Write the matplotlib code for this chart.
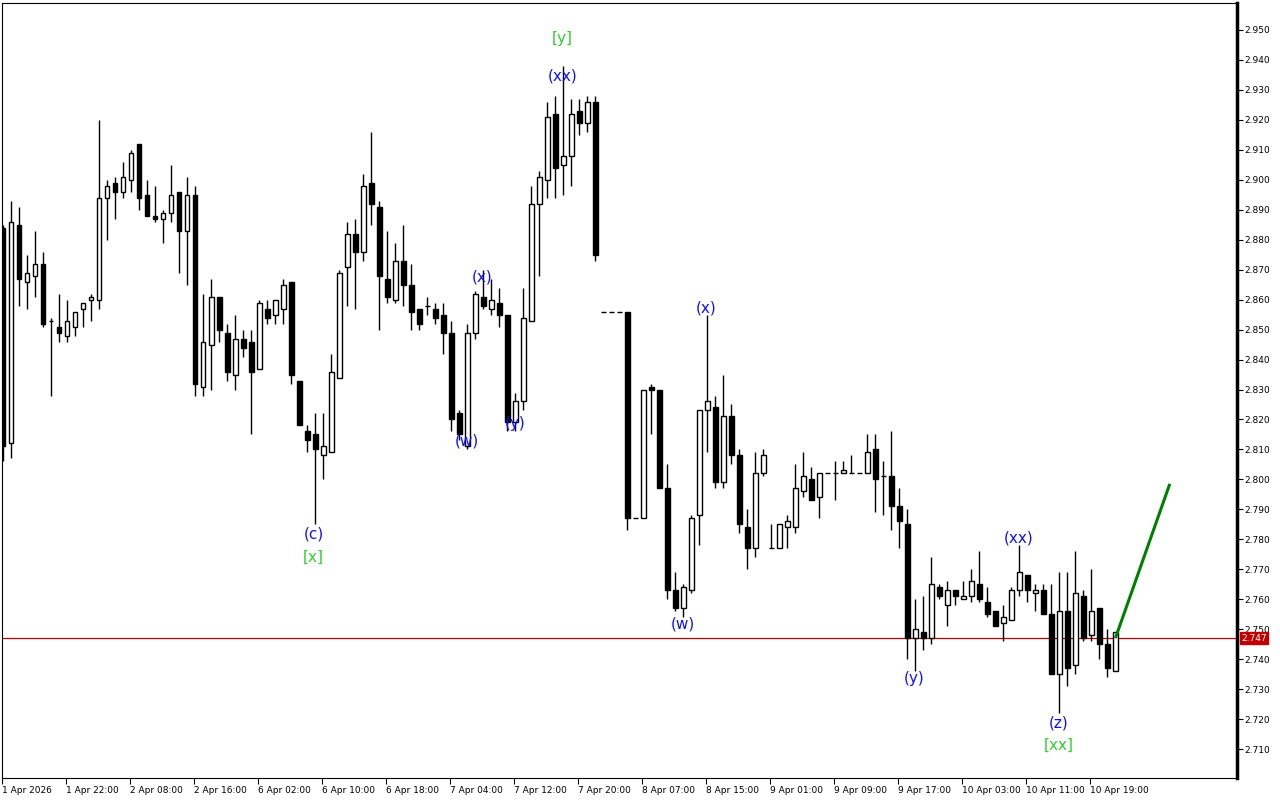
import matplotlib
matplotlib.use("Agg")
import matplotlib.pyplot as plt
import numpy as np

# hourly bars, O H L C
opens = [2.884, 2.812, 2.885, 2.866, 2.868, 2.872, 2.853, 2.851, 2.848, 2.851,
         2.857, 2.860, 2.860, 2.894, 2.899, 2.896, 2.900, 2.912, 2.895, 2.888,
         2.887, 2.889, 2.896, 2.883, 2.895, 2.831, 2.845, 2.861, 2.849, 2.835,
         2.847, 2.846, 2.837, 2.857, 2.855, 2.857, 2.866, 2.833, 2.816, 2.815,
         2.808, 2.809, 2.834, 2.871, 2.882, 2.876, 2.899, 2.891, 2.867, 2.860,
         2.873, 2.865, 2.857, 2.858, 2.857, 2.855, 2.849, 2.822, 2.811, 2.849,
         2.861, 2.857, 2.859, 2.855, 2.819, 2.826, 2.853, 2.892, 2.900, 2.922,
         2.905, 2.908, 2.923, 2.919, 2.926, 2.856, 2.856, 2.856, 2.856, 2.787,
         2.787, 2.831, 2.830, 2.797, 2.763, 2.757, 2.763, 2.788, 2.823, 2.824,
         2.799, 2.821, 2.808, 2.784, 2.777, 2.802, 2.777, 2.777, 2.784, 2.784,
         2.796, 2.800, 2.794, 2.802, 2.802, 2.802, 2.802, 2.802, 2.802, 2.810,
         2.801, 2.801, 2.791, 2.785, 2.747, 2.749, 2.747, 2.764, 2.758, 2.763,
         2.760, 2.761, 2.765, 2.759, 2.756, 2.752, 2.753, 2.763, 2.768, 2.762,
         2.763, 2.755, 2.735, 2.756, 2.738, 2.761, 2.748, 2.757, 2.745, 2.736]
highs = [2.885, 2.893, 2.891, 2.875, 2.883, 2.876, 2.854, 2.862, 2.860, 2.856,
         2.859, 2.862, 2.920, 2.900, 2.901, 2.906, 2.910, 2.912, 2.900, 2.898,
         2.890, 2.905, 2.896, 2.901, 2.898, 2.862, 2.867, 2.861, 2.852, 2.855,
         2.850, 2.850, 2.860, 2.860, 2.860, 2.867, 2.866, 2.833, 2.818, 2.822,
         2.822, 2.842, 2.870, 2.886, 2.887, 2.902, 2.916, 2.893, 2.883, 2.879,
         2.885, 2.872, 2.857, 2.861, 2.859, 2.859, 2.853, 2.823, 2.852, 2.863,
         2.870, 2.867, 2.864, 2.855, 2.829, 2.864, 2.898, 2.903, 2.926, 2.928,
         2.938, 2.927, 2.927, 2.928, 2.928, 2.856, 2.856, 2.856, 2.856, 2.787,
         2.830, 2.832, 2.830, 2.805, 2.769, 2.765, 2.788, 2.823, 2.855, 2.828,
         2.835, 2.825, 2.810, 2.790, 2.809, 2.810, 2.785, 2.785, 2.788, 2.805,
         2.809, 2.804, 2.802, 2.802, 2.806, 2.806, 2.808, 2.802, 2.815, 2.815,
         2.806, 2.816, 2.797, 2.790, 2.760, 2.761, 2.774, 2.765, 2.766, 2.763,
         2.766, 2.770, 2.776, 2.764, 2.756, 2.758, 2.764, 2.778, 2.768, 2.765,
         2.765, 2.765, 2.769, 2.769, 2.776, 2.763, 2.770, 2.757, 2.750, 2.749]
lows = [2.806, 2.807, 2.858, 2.857, 2.861, 2.851, 2.828, 2.846, 2.846, 2.848,
        2.851, 2.853, 2.857, 2.880, 2.887, 2.894, 2.896, 2.890, 2.888, 2.886,
        2.879, 2.886, 2.869, 2.865, 2.828, 2.828, 2.830, 2.846, 2.833, 2.830,
        2.841, 2.815, 2.837, 2.852, 2.852, 2.852, 2.832, 2.818, 2.809, 2.785,
        2.800, 2.809, 2.834, 2.858, 2.857, 2.873, 2.885, 2.850, 2.859, 2.859,
        2.858, 2.850, 2.850, 2.855, 2.852, 2.842, 2.816, 2.813, 2.810, 2.847,
        2.857, 2.855, 2.851, 2.816, 2.816, 2.823, 2.853, 2.868, 2.894, 2.894,
        2.895, 2.898, 2.915, 2.916, 2.873, 2.856, 2.856, 2.856, 2.783, 2.787,
        2.787, 2.815, 2.797, 2.760, 2.756, 2.754, 2.762, 2.778, 2.809, 2.797,
        2.797, 2.805, 2.782, 2.770, 2.774, 2.801, 2.777, 2.777, 2.777, 2.782,
        2.794, 2.793, 2.787, 2.802, 2.793, 2.802, 2.802, 2.802, 2.802, 2.789,
        2.788, 2.783, 2.777, 2.740, 2.736, 2.743, 2.745, 2.760, 2.751, 2.758,
        2.760, 2.759, 2.759, 2.754, 2.751, 2.746, 2.753, 2.761, 2.759, 2.756,
        2.755, 2.735, 2.722, 2.731, 2.735, 2.746, 2.746, 2.740, 2.734, 2.736]
closes = [2.811, 2.886, 2.867, 2.869, 2.872, 2.852, 2.853, 2.849, 2.853, 2.856,
          2.859, 2.861, 2.894, 2.898, 2.896, 2.901, 2.909, 2.894, 2.888, 2.887,
          2.889, 2.895, 2.883, 2.895, 2.832, 2.846, 2.861, 2.850, 2.836, 2.847,
          2.844, 2.836, 2.859, 2.854, 2.860, 2.865, 2.835, 2.818, 2.813, 2.810,
          2.811, 2.836, 2.869, 2.882, 2.876, 2.898, 2.892, 2.868, 2.861, 2.873,
          2.865, 2.856, 2.852, 2.858, 2.854, 2.849, 2.820, 2.815, 2.849, 2.862,
          2.858, 2.860, 2.855, 2.819, 2.826, 2.854, 2.892, 2.901, 2.921, 2.904,
          2.908, 2.922, 2.919, 2.926, 2.875, 2.856, 2.856, 2.856, 2.787, 2.787,
          2.830, 2.830, 2.797, 2.763, 2.757, 2.764, 2.787, 2.823, 2.826, 2.799,
          2.821, 2.808, 2.785, 2.777, 2.802, 2.808, 2.777, 2.785, 2.786, 2.797,
          2.801, 2.793, 2.802, 2.802, 2.802, 2.803, 2.802, 2.802, 2.809, 2.800,
          2.801, 2.791, 2.786, 2.747, 2.750, 2.747, 2.765, 2.761, 2.763, 2.761,
          2.761, 2.766, 2.760, 2.755, 2.751, 2.754, 2.763, 2.769, 2.763, 2.763,
          2.755, 2.735, 2.756, 2.737, 2.762, 2.747, 2.756, 2.745, 2.737, 2.749]

bid = 2.747

date_labels = ["1 Apr 2026", "1 Apr 22:00", "2 Apr 08:00", "2 Apr 16:00", "6 Apr 02:00",
               "6 Apr 10:00", "6 Apr 18:00", "7 Apr 04:00", "7 Apr 12:00", "7 Apr 20:00",
               "8 Apr 07:00", "8 Apr 15:00", "9 Apr 01:00", "9 Apr 09:00", "9 Apr 17:00",
               "10 Apr 03:00", "10 Apr 11:00", "10 Apr 19:00"]

# wave labels: text, bar position, price
blue_labels = [("(xx)", 69.9, 2.9346), ("(x)", 59.8, 2.8676), ("(w)", 57.9, 2.8128),
               ("(y)", 64.0, 2.8185), ("(c)", 38.8, 2.7818), ("(x)", 87.9, 2.8572),
               ("(w)", 84.9, 2.7517), ("(y)", 113.9, 2.7336), ("(xx)", 126.9, 2.7803),
               ("(z)", 131.9, 2.7186)]
green_labels = [("[y]", 69.9, 2.9470), ("[x]", 38.8, 2.7740), ("[xx]", 131.9, 2.7113)]

# forecast segment
fc_x = [139, 145.8]
fc_y = [2.747, 2.7985]

o = np.array(opens); h = np.array(highs); l = np.array(lows); c = np.array(closes)
x = np.arange(len(o))

fig = plt.figure(figsize=(12.8, 8), dpi=100)
ax = fig.add_axes([2 / 1280, 22 / 800, 1235 / 1280, 775 / 800])

ax.vlines(x, l, h, color="black", lw=1, zorder=2)
bottoms = np.minimum(o, c)
heights = np.abs(c - o)
fills = np.where(c > o, "white", "black")
ax.bar(x, heights, bottom=bottoms, width=0.55, color=fills, edgecolor="black",
       linewidth=1, zorder=3)

ax.axhline(bid, color="#c00000", lw=0.9, zorder=1)
ax.plot(fc_x, fc_y, color="#008000", lw=2.2, zorder=4, solid_capstyle="butt")

for txt, bx, py in blue_labels:
    ax.text(bx, py, txt, color="#1010ff", fontsize=11, ha="center", va="center", zorder=5)
for txt, bx, py in green_labels:
    ax.text(bx, py, txt, color="#32cd32", fontsize=11, ha="center", va="center", zorder=5)

ax.set_xlim(-0.16, 154.2)
ax.set_ylim(2.70033, 2.95901)

ax.yaxis.tick_right()
ax.set_yticks(np.round(np.arange(2.710, 2.951, 0.010), 3))
ax.yaxis.set_major_formatter(matplotlib.ticker.FormatStrFormatter("%.3f"))
ax.tick_params(axis="y", direction="out", length=4, width=0.8, labelsize=6.5, pad=1)

ax.set_xticks(np.arange(0, 8 * len(date_labels), 8) - 0.16)
ax.set_xticklabels(date_labels, ha="left")
ax.tick_params(axis="x", direction="out", length=4, width=0.8, labelsize=6.5, pad=2)

ax.spines["right"].set_linewidth(2.5)
for s in ["left", "top", "bottom"]:
    ax.spines[s].set_linewidth(0.8)

ax.annotate(f"{bid:.3f}", xy=(1.0, bid), xycoords=("axes fraction", "data"),
            xytext=(3, 0), textcoords="offset points", ha="left", va="center",
            fontsize=6.5, color="white",
            bbox=dict(boxstyle="square,pad=0.15", fc="#c00000", ec="#c00000"))

fig.savefig("out.png", dpi=100)
